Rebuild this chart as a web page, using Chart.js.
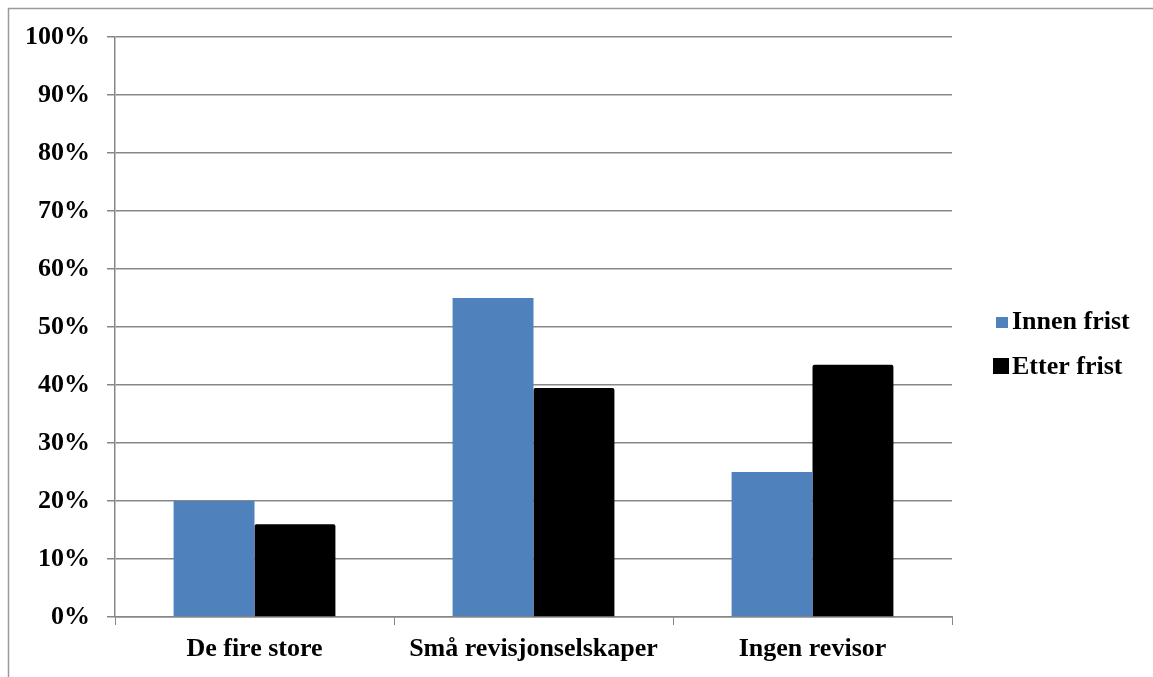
<!DOCTYPE html>
<html>
<head>
<meta charset="utf-8">
<script src="https://cdn.jsdelivr.net/npm/chart.js@4/dist/chart.umd.min.js"></script>
<style>
  html, body { margin: 0; padding: 0; background: #fff; }
  #wrap { width: 1153px; height: 677px; position: relative; }
</style>
</head>
<body>
<div id="wrap"><canvas id="c" width="1153" height="677"></canvas></div>
<script>
// Andel per revisortype, innen og etter frist
const categories = ['De fire store', 'Små revisjonselskaper', 'Ingen revisor'];
const innenFrist = [20, 55, 25];
const etterFrist = [16, 39.5, 43.5];
const seriesNames = ['Innen frist', 'Etter frist'];
const yTicks = [0, 10, 20, 30, 40, 50, 60, 70, 80, 90, 100];

const FONT = { family: '"Liberation Serif", "Times New Roman", serif', size: 26, weight: 'bold' };
const GRID = '#878787';

// outer frame around the chart object
const framePlugin = {
  id: 'frame',
  beforeDraw(chart) {
    const ctx = chart.ctx;
    ctx.save();
    ctx.fillStyle = '#fff';
    ctx.fillRect(0, 0, chart.width, chart.height);
    ctx.strokeStyle = '#9a9a9a';
    ctx.lineWidth = 1.5;
    ctx.strokeRect(8.5, 8.5, chart.width + 10, chart.height + 10);
    ctx.restore();
  }
};

// legend on the right, drawn next to the plot
const sideLegend = {
  id: 'sideLegend',
  afterDraw(chart) {
    const ctx = chart.ctx;
    const boxes = [
      { x: 996, y: 317, w: 12, h: 11 },
      { x: 993, y: 358, w: 16, h: 16 }
    ];
    const rows = [322, 367];
    ctx.save();
    ctx.font = `${FONT.weight} ${FONT.size}px ${FONT.family}`;
    ctx.textBaseline = 'middle';
    ctx.textAlign = 'left';
    chart.data.datasets.forEach((ds, i) => {
      ctx.fillStyle = ds.backgroundColor;
      ctx.fillRect(boxes[i].x, boxes[i].y, boxes[i].w, boxes[i].h);
      ctx.fillStyle = '#000';
      ctx.fillText(ds.label, 1012, rows[i]);
    });
    ctx.restore();
  }
};

new Chart(document.getElementById('c'), {
  type: 'bar',
  data: {
    labels: categories,
    datasets: [
      { label: seriesNames[0], data: innenFrist, backgroundColor: '#4F81BD' },
      { label: seriesNames[1], data: etterFrist, backgroundColor: '#000000', borderRadius: 2 }
    ]
  },
  options: {
    responsive: false,
    animation: false,
    devicePixelRatio: 1,
    layout: { padding: { top: 37, right: 201, left: 0, bottom: 0 } },
    datasets: { bar: { categoryPercentage: 0.58, barPercentage: 1.0 } },
    plugins: {
      legend: { display: false },
      tooltip: { enabled: false }
    },
    scales: {
      x: {
        afterFit(scale) { scale.height = 60; },
        grid: { display: true, drawOnChartArea: false, drawTicks: true, tickLength: 8, color: GRID, offset: true },
        border: { display: true, color: GRID, width: 1.5 },
        ticks: { color: '#000', font: FONT, padding: 9, maxRotation: 0 }
      },
      y: {
        min: 0,
        max: 100,
        afterFit(scale) { scale.width = 115; },
        afterBuildTicks(scale) { scale.ticks = yTicks.map(v => ({ value: v })); },
        grid: { color: GRID, lineWidth: 1.5, drawTicks: true, tickLength: 8 },
        border: { display: true, color: GRID, width: 1.5 },
        ticks: {
          color: '#000',
          font: FONT,
          padding: 17,
          callback: v => v + '%'
        }
      }
    }
  },
  plugins: [framePlugin, sideLegend]
});
</script>
</body>
</html>
